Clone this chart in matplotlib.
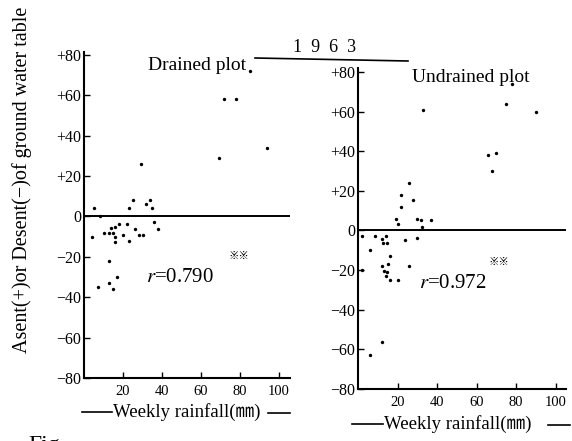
import matplotlib
matplotlib.use("Agg")
import matplotlib.pyplot as plt
from matplotlib.lines import Line2D

# ==========================
# Data
# ==========================
# Drained plot: weekly rainfall (mm) vs change of ground water table
drained_rain = [85, 72, 78, 94, 69, 29, 5, 8, 25, 23, 32, 34, 35, 4, 10, 13, 14, 16,
                18, 15, 16, 16, 20, 22, 23, 26, 28, 30, 36, 38, 13, 17, 7, 13, 15]
drained_level = [72, 58, 58, 34, 29, 26, 4, 0, 8, 4, 6, 8, 4, -10, -8, -8, -5.5, -5,
                 -4, -8, -10, -12.5, -9, -4, -12, -6, -9, -9, -3, -6, -22, -30, -35, -33, -36]

# Undrained plot
undrained_rain = [78, 75, 90, 33, 66, 70, 68, 26, 22, 28, 22, 19, 20, 30, 32, 37, 32.5,
                  2, 8.5, 12, 14, 12.5, 14.5, 24, 30, 6, 16, 15, 12, 13, 14.5, 14, 16,
                  20, 26, 2, 12, 6]
undrained_level = [74, 64, 60, 61, 38, 39, 30, 24, 18, 15.5, 12, 6, 3.5, 6, 5.5, 5.5, 2,
                   -3, -2.7, -4.5, -3, -6.5, -6.5, -5, -3.7, -10, -13, -17, -18, -20.5,
                   -21, -23, -25, -25, -18, -20, -56.5, -63]

x_ticks = [20, 40, 60, 80, 100]
y_ticks = [-80, -60, -40, -20, 0, 20, 40, 60, 80]
y_tick_labels = ["\u221280", "\u221260", "\u221240", "\u221220", "0", "+20", "+40", "+60", "+80"]

fonts = ["Liberation Serif", "Noto Sans CJK JP"]
plt.rcParams['font.family'] = fonts
plt.rcParams['mathtext.fontset'] = 'stix'
plt.rcParams['axes.unicode_minus'] = True

W, H = 572, 441
fig = plt.figure(figsize=(W / 100, H / 100), dpi=100)


def px(x, y):
    return x / W, 1 - y / H


def panel(rect, xlim, ylim, xs, ys):
    ax = fig.add_axes(rect)
    ax.scatter(xs, ys, s=6, color="black", linewidths=0, zorder=3)
    ax.axhline(0, color="black", lw=1.4)
    ax.set_xlim(*xlim)
    ax.set_ylim(*ylim)
    for s in ["top", "right"]:
        ax.spines[s].set_visible(False)
    for s in ["left", "bottom"]:
        ax.spines[s].set_linewidth(1.5)
    ax.set_xticks(x_ticks)
    ax.set_yticks(y_ticks)
    ax.set_yticklabels(y_tick_labels)
    ax.tick_params(direction="in", length=4, width=1)
    ax.tick_params(axis="y", pad=2, labelsize=11.5)
    ax.tick_params(axis="x", pad=5, labelsize=10.5)
    return ax


# Left panel (drained)
ax1 = panel([84 / W, 1 - 378 / H, 206 / W, 326 / H], (0, 105.6), (-80, 81.4),
            drained_rain, drained_level)
ax1.text(0.31, 0.96, "Drained plot", transform=ax1.transAxes, fontsize=14,
         ha="left", va="center")
ax1.text(32, -30, "$r$=0.790", fontsize=15, ha="left", va="center")
ax1.text(74, -20, "\u203b\u203b", fontsize=7.5, fontweight="bold", ha="left", va="center")

# Right panel (undrained)
ax2 = panel([358 / W, 1 - 389 / H, 208 / W, 321 / H], (0, 105.3), (-80, 82),
            undrained_rain, undrained_level)
ax2.text(0.26, 0.969, "Undrained plot", transform=ax2.transAxes, fontsize=14,
         ha="left", va="center")
ax2.text(31, -27, "$r$=0.972", fontsize=15, ha="left", va="center")
ax2.text(66, -16, "\u203b\u203b", fontsize=7.5, fontweight="bold", ha="left", va="center")

# Year header with rule
fig.text(*px(325, 47), "1  9  6  3", fontsize=13, ha="center", va="center")
fig.add_artist(Line2D([255 / W, 408 / W], [1 - 58 / H, 1 - 61 / H], color="black", lw=1.2))

# X labels with dashes on each side
for (l0, l1, tx, r0, r1, yy) in [(82, 112, 113, 268, 290, 412), (352, 383, 384, 548, 570, 424)]:
    fig.add_artist(Line2D([l0 / W, l1 / W], [1 - yy / H] * 2, color="black", lw=1.2))
    fig.add_artist(Line2D([r0 / W, r1 / W], [1 - (yy + 1) / H] * 2, color="black", lw=1.2))
    fig.text(*px(tx, yy), "Weekly rainfall(\u339c)", fontsize=13.5, ha="left", va="center")

# Y label
fig.text(*px(22, 180), "Asent(+)or Desent(\u2212)of ground water table", fontsize=14.5,
         rotation=90, ha="center", va="center")

# caption, cut off by the bottom edge as in the scan
fig.text(*px(28, 445), "Fig.", fontsize=17, ha="left", va="center")

fig.savefig("out.png", dpi=100)
